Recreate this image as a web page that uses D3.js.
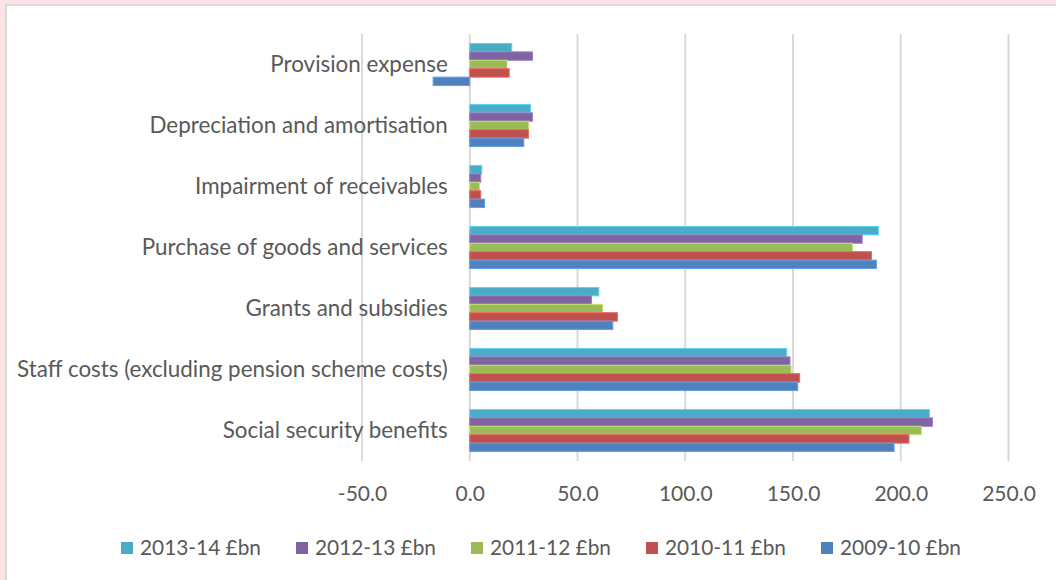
<!DOCTYPE html>
<html>
<head>
<meta charset="utf-8">
<script src="https://cdn.jsdelivr.net/npm/d3@7"></script>
<style>
  html, body { margin: 0; padding: 0; background: #FBE3E6; width: 1056px; height: 580px; overflow: hidden; }
  #frame { position: absolute; left: 5px; top: 4px; width: 1051px; height: 576px; background: #fff;
           border-left: 2px solid #D9D9D9; border-top: 2px solid #D9D9D9; box-sizing: border-box; }
  svg { position: absolute; left: 0; top: 0; }
  text { font-family: Lato, "Open Sans", sans-serif; fill: #595959; }
</style>
</head>
<body>
<div id="frame"></div>
<svg id="chart" width="1056" height="580"></svg>
<script>
const categories = [
  "Provision expense",
  "Depreciation and amortisation",
  "Impairment of receivables",
  "Purchase of goods and services",
  "Grants and subsidies",
  "Staff costs (excluding pension scheme costs)",
  "Social security benefits"
];
const seriesNames = ["2013-14 £bn", "2012-13 £bn", "2011-12 £bn", "2010-11 £bn", "2009-10 £bn"];
const seriesColors = ["#4BACC6", "#8064A2", "#9BBB59", "#C0504D", "#4F81BD"];
const v2013_14 = [19.5, 28.2, 5.6, 189.6, 59.9, 147.1, 213.3];
const v2012_13 = [29.1, 29.1, 5.1, 182.1, 56.5, 148.6, 214.7];
const v2011_12 = [17.3, 27.4, 4.5, 177.6, 61.7, 149.1, 209.6];
const v2010_11 = [18.3, 27.2, 5.1, 186.4, 68.5, 153.1, 203.8];
const v2009_10 = [-17.0, 25.1, 6.9, 188.7, 66.4, 152.2, 196.9];
const seriesValues = [v2013_14, v2012_13, v2011_12, v2010_11, v2009_10];
const xTicks = [-50, 0, 50, 100, 150, 200, 250];

const svg = d3.select("#chart");
const x = d3.scaleLinear().domain([-50, 250]).range([362, 1008.5]);
const y = d3.scaleBand().domain(categories).range([34, 461]).paddingInner(0.31).paddingOuter(0.155);
const ys = d3.scaleBand().domain(seriesNames).range([0, y.bandwidth()]);

// gridlines
svg.append("g").selectAll("line").data(xTicks).join("line")
  .attr("x1", d => x(d)).attr("x2", d => x(d))
  .attr("y1", 34).attr("y2", 461)
  .attr("stroke", "#D9D9D9").attr("stroke-width", 2);

// bars
const groups = svg.append("g").selectAll("g").data(seriesNames).join("g")
  .attr("fill", (d, i) => seriesColors[i]);
groups.each(function(name, si) {
  d3.select(this).selectAll("rect").data(categories).join("rect")
    .attr("x", (c, ci) => x(Math.min(0, seriesValues[si][ci])))
    .attr("width", (c, ci) => Math.abs(x(seriesValues[si][ci]) - x(0)))
    .attr("y", c => y(c) + ys(name))
    .attr("height", ys.bandwidth())
    .attr("stroke", d3.color(seriesColors[si]).brighter(0.6))
    .attr("stroke-width", 1);
});

// x axis labels
const fmt = d3.format(".1f");
const xAxis = d3.axisBottom(x).tickValues(xTicks).tickFormat(d => fmt(d).replace("\u2212", "-")).tickSize(0).tickPadding(0);
const gx = svg.append("g").attr("transform", "translate(0,486)").call(xAxis);
gx.select(".domain").remove();
gx.selectAll("text").style("font-size", "21px").attr("fill", "#595959").attr("dy", "0.71em")
  .style("font-family", "Lato, 'Open Sans', sans-serif");

// y axis labels at zero
const yAxis = d3.axisLeft(y).tickSize(0).tickPadding(22);
const gy = svg.append("g").attr("transform", `translate(${x(0)},0)`).call(yAxis);
gy.select(".domain").remove();
gy.selectAll("text").style("font-size", "22.4px").attr("fill", "#595959")
  .style("font-family", "Lato, 'Open Sans', sans-serif");

// legend
const legendX = [121, 296, 471, 646, 821];
const lg = svg.append("g").selectAll("g").data(seriesNames).join("g")
  .attr("transform", (d, i) => `translate(${legendX[i]},548)`);
lg.append("rect").attr("x", 0).attr("y", -6).attr("width", 12).attr("height", 12)
  .attr("fill", (d, i) => seriesColors[i]);
lg.append("text").attr("x", 19).attr("dy", "0.35em").style("font-size", "21px")
  .attr("textLength", 121).attr("lengthAdjust", "spacingAndGlyphs").text(d => d);
</script>
</body>
</html>
